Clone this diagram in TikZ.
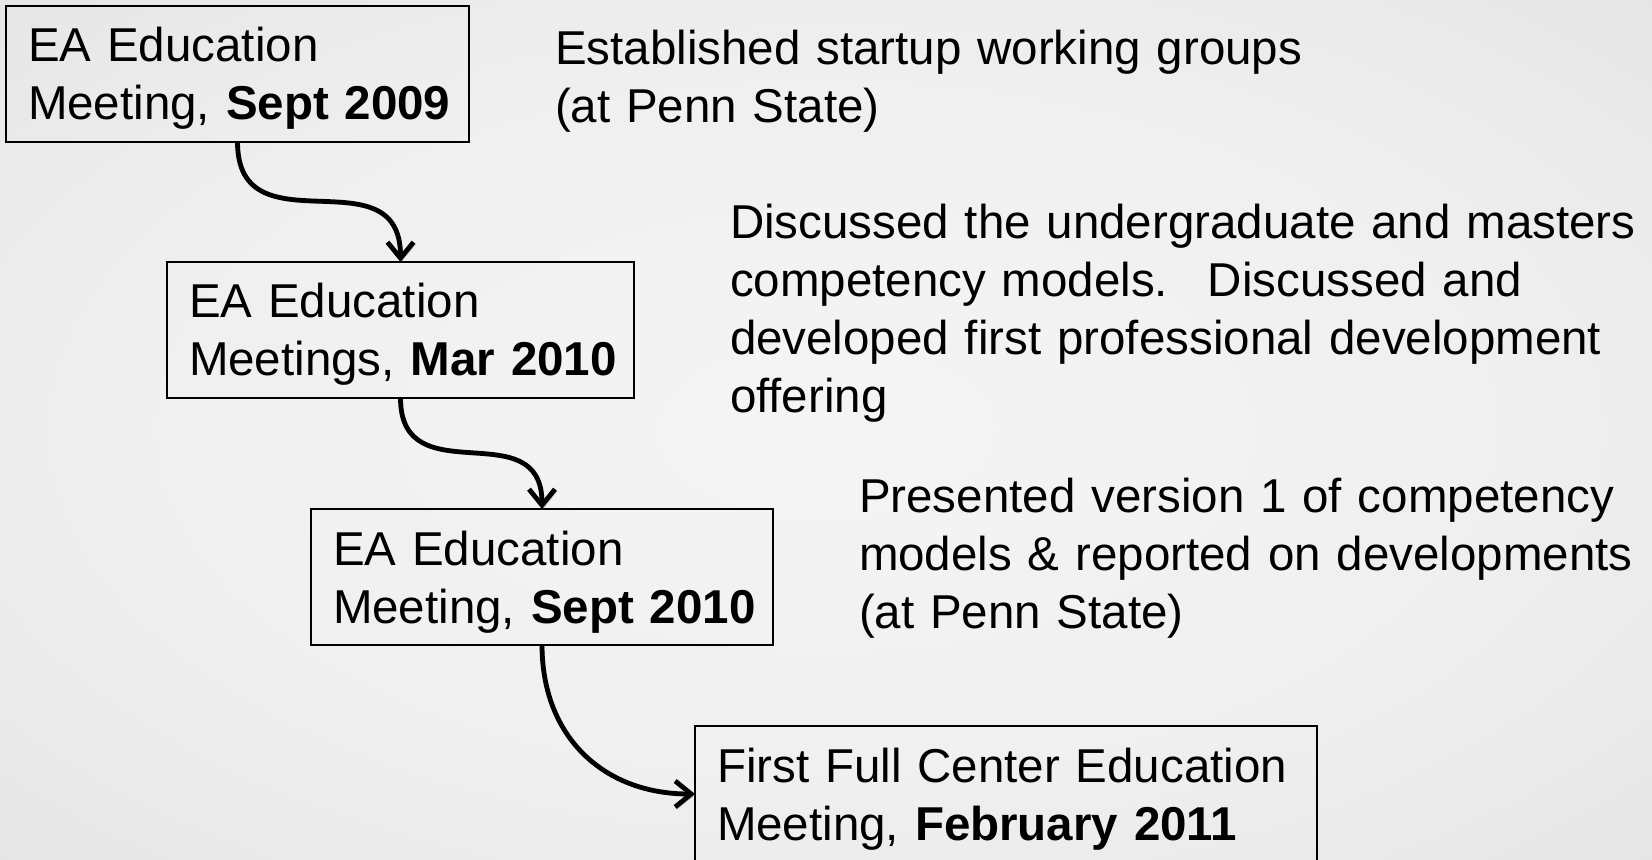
\documentclass[tikz,border=0pt]{standalone}
\usepackage{fontspec}
\setmainfont{Liberation Sans}
\usetikzlibrary{arrows.meta}
\pgfdeclareradialshading{slideback}{\pgfpoint{0bp}{0bp}}{%
  color(0bp)=(white!96!black);
  color(20bp)=(white!94!black);
  color(45bp)=(white!88!black);
  color(75bp)=(white!83!black)}
\newcommand{\slidefont}{\fontsize{23.75}{29}\selectfont}

\begin{document}
\begin{tikzpicture}[x=0.5pt, y=-0.5pt, line width=1pt,
				Meeting/.style={
				draw=black,
				anchor=north west,
				align=left,
				outer sep=0pt,
				inner xsep=11pt,
				inner ysep=11pt,
				text height=17pt,
				text depth=29pt,
				font=\slidefont
				},
				Note/.style={
				anchor=north west,
				align=left,
				inner sep=0pt,
				text width=600pt,
				text height=17pt,
				font=\slidefont
				},
				Flow/.style={
				line width=2.4pt,
				looseness=1.4,
				-{Straight Barb[length=8pt, width=13pt]},
				preaction={draw=black!22, transform canvas={shift={(0.8pt,-0.8pt)}}}
				}]
				\useasboundingbox (0,0) rectangle (1652,860);
				\clip (0,0) rectangle (1652,860);
				\shade[shading=slideback] (0,0) rectangle (1652,860);
				% Meetings
				\node[Meeting, text width=209.5pt] (sep09) at (6,6) {EA~Education\\Meeting,~\textbf{Sept~2009}};
				\node[Meeting, text width=211.5pt] (mar10) at (167,262) {EA~Education\\Meetings,~\textbf{Mar~2010}};
				\node[Meeting, text width=209pt] (sep10) at (311,509) {EA~Education\\Meeting,~\textbf{Sept~2010}};
				\node[Meeting, text width=289pt] (feb11) at (695,726) {First~Full~Center~Education\\Meeting,~\textbf{February~2011}};
				% Outcomes
				\node[Note] (out09) at (554,30) {Established startup working groups\\(at Penn State)};
				\node[Note] (out10a) at (729,204) {Discussed the undergraduate and masters\\competency models.~ Discussed and\\developed first professional development\\offering};
				\node[Note] (out10b) at (858,477) {Presented version 1 of competency\\models \& reported on developments\\(at Penn State)};
				% Arrows
				\draw[Flow] (sep09.south) to[out=-90, in=90] (mar10.north);
				\draw[Flow] (mar10.south) to[out=-90, in=90] (sep10.north);
				\draw[Flow, looseness=1.1] (sep10.south) to[out=-90, in=180] (feb11.west);
			\end{tikzpicture}
\end{document}
